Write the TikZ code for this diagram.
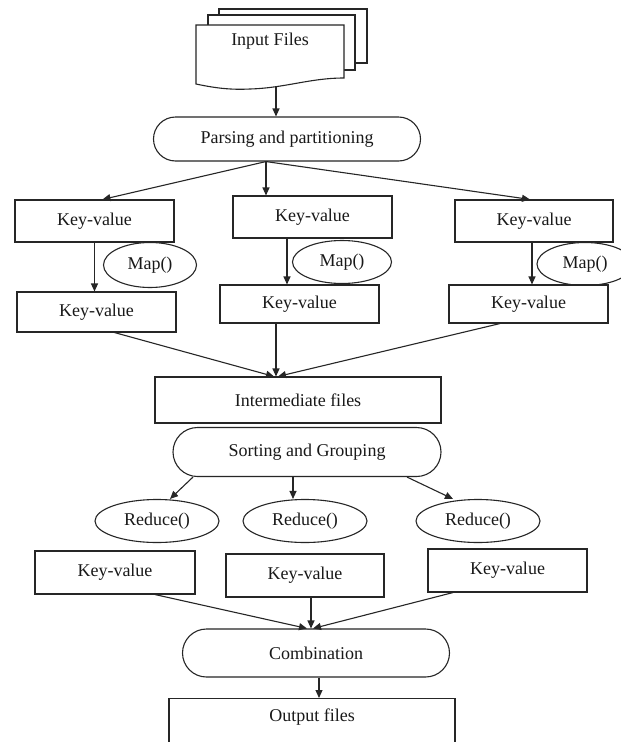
\documentclass[tikz,border=0pt]{standalone}
\usepackage{fontspec}
\setmainfont{Liberation Serif}
\usetikzlibrary{arrows.meta,shapes.geometric,shapes.misc,calc}
\begin{document}
\begin{tikzpicture}[x=1pt,y=-1pt,
  every node/.style={font=\fontsize{18}{20}\selectfont, inner sep=0pt, text=black!90},
  ln/.style={draw=black!85, line width=1.1pt},
  box/.style={ln, rectangle, fill=white},
  term/.style={ln, rounded rectangle, fill=white},
  oval/.style={ln, ellipse, fill=white},
  arr/.style={ln, -{Triangle[length=8pt,width=7pt]}},
  ]
\useasboundingbox[fill=white] (0,0) rectangle (621,742);

% input files (multi-document)
\draw[ln, fill=white] (219,9) rectangle (367,63);
\draw[ln, fill=white] (208,15) rectangle (355,70);
\draw[ln, fill=white] (196,25) -- (344,25) -- (344,78)
   .. controls (310,78) and (285,88) .. (250,89)
   .. controls (230,90) and (215,88) .. (196,84) -- cycle;
\node (inp) at (270,41) {Input Files};
\coordinate (inpb) at (276,86);

\node[term, minimum width=267pt, minimum height=44pt] (parse) at (287,139) {Parsing and partitioning};
\coordinate (pb) at ([xshift=-21pt]parse.south);

\node[box, minimum width=159pt, minimum height=42pt] (kv1a) at (94.5,221) {Key-value};
\node[box, minimum width=159pt, minimum height=42pt] (kv1b) at (312.5,217) {Key-value};
\node[box, minimum width=158pt, minimum height=42pt] (kv1c) at (534,221) {Key-value};

\node[oval, minimum width=93pt, minimum height=45pt] (map1) at (150,265) {Map()};
\node[oval, minimum width=99pt, minimum height=43pt] (map2) at (342,262) {Map()};
\node[oval, minimum width=96pt, minimum height=43pt] (map3) at (585,264) {Map()};

\node[box, minimum width=159pt, minimum height=40pt] (kv2a) at (96.5,312) {Key-value};
\node[box, minimum width=159pt, minimum height=38pt] (kv2b) at (299.5,304) {Key-value};
\node[box, minimum width=159pt, minimum height=38pt] (kv2c) at (528.5,304) {Key-value};

\node[box, minimum width=286pt, minimum height=46pt] (inter) at (298,400) {Intermediate files};
\coordinate (im) at ([xshift=-22pt]inter.north);

\node[term, minimum width=268pt, minimum height=49pt] (sort) at (307,452) {Sorting and Grouping};

\node[oval, minimum width=124pt, minimum height=43pt] (red1) at (157,521) {Reduce()};
\node[oval, minimum width=124pt, minimum height=43pt] (red2) at (305,521) {Reduce()};
\node[oval, minimum width=124pt, minimum height=43pt] (red3) at (478,521) {Reduce()};

\node[box, minimum width=160pt, minimum height=43pt] (kv3a) at (115,572.5) {Key-value};
\node[box, minimum width=158pt, minimum height=43pt] (kv3b) at (305,575.5) {Key-value};
\node[box, minimum width=159pt, minimum height=43pt] (kv3c) at (507.5,570.5) {Key-value};

\node[term, minimum width=267pt, minimum height=48pt] (comb) at (316,653) {Combination};

\node[box, anchor=north, minimum width=286pt, text height=23pt, text depth=30pt] (out) at (312,698) {Output files};

% connectors
\draw[arr] (inpb) -- (inpb |- parse.north);
\draw[arr] (pb) -- ([xshift=8pt]kv1a.north);
\draw[arr] (pb) -- (pb |- kv1b.north);
\draw[arr] (pb) -- ([xshift=-4pt]kv1c.north);

\draw[arr] (kv1a.south) -- (kv1a.south |- kv2a.north);
\draw[arr] ([xshift=-25.5pt]kv1b.south) -- ([xshift=-25.5pt]kv1b.south |- kv2b.north);
\draw[arr] ([xshift=-2pt]kv1c.south) -- ([xshift=-2pt]kv1c.south |- kv2c.north);

\draw[arr] ([xshift=18pt]kv2a.south) -- ([xshift=-2pt]im);
\draw[arr] (kv2b.south -| im) -- (im);
\draw[arr] ([xshift=-28.5pt]kv2c.south) -- ([xshift=2pt]im);

\draw[arr] ([xshift=-114pt]sort.south) -- ([xshift=13pt]red1.north);
\draw[arr] ([xshift=-14pt]sort.south) -- ([xshift=-14pt]sort.south |- red2.north);
\draw[arr] ([xshift=100pt]sort.south) -- ([xshift=-25pt]red3.north);

\draw[arr] ([xshift=40pt]kv3a.south) -- ([xshift=-9pt]comb.north);
\draw[arr] ([xshift=6pt]kv3b.south) -- ([xshift=6pt]kv3b.south |- comb.north);
\draw[arr] ([xshift=-54.5pt]kv3c.south) -- ([xshift=-3pt]comb.north);
\draw[arr] ([xshift=3pt]comb.south) -- ([xshift=3pt]comb.south |- out.north);
\end{tikzpicture}
\end{document}
